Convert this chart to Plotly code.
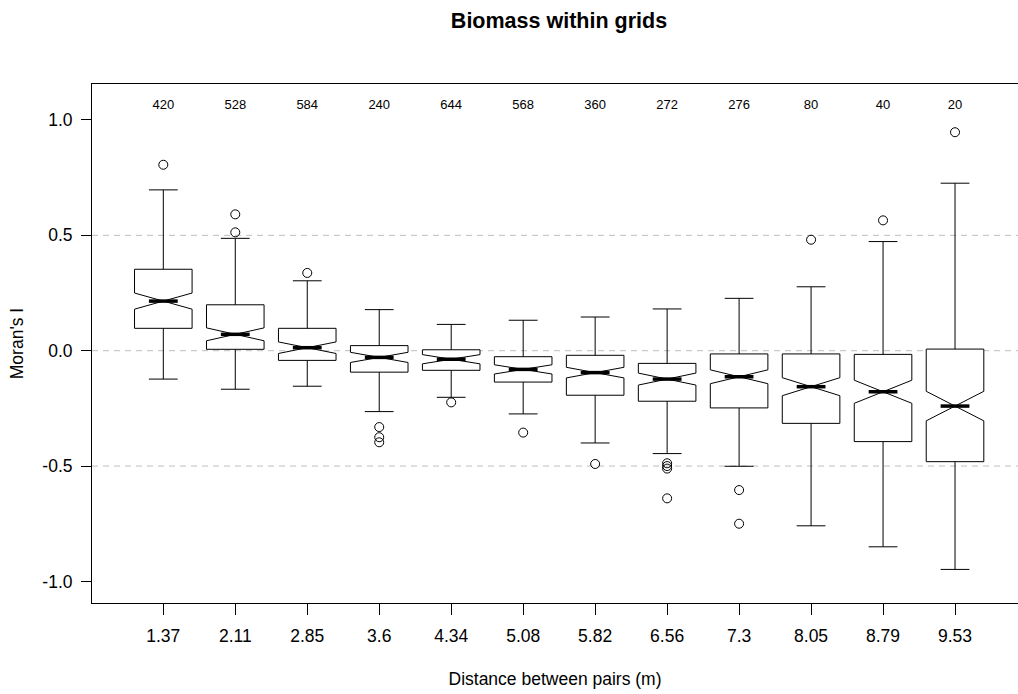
import plotly.graph_objects as go

# ---- data ----
categories = ["1.37", "2.11", "2.85", "3.6", "4.34", "5.08",
              "5.82", "6.56", "7.3", "8.05", "8.79", "9.53"]
counts = [420, 528, 584, 240, 644, 568, 360, 272, 276, 80, 40, 20]
q1 = [0.097, 0.006, -0.042, -0.093, -0.085, -0.136,
      -0.193, -0.219, -0.248, -0.315, -0.394, -0.481]
medians = [0.215, 0.071, 0.013, -0.029, -0.037, -0.081,
           -0.095, -0.123, -0.113, -0.156, -0.178, -0.240]
q3 = [0.353, 0.199, 0.097, 0.022, 0.004, -0.026,
      -0.020, -0.055, -0.014, -0.014, -0.016, 0.007]
lower_whisker = [-0.123, -0.167, -0.154, -0.264, -0.202, -0.274,
                 -0.400, -0.446, -0.501, -0.759, -0.850, -0.948]
upper_whisker = [0.697, 0.487, 0.303, 0.178, 0.114, 0.132,
                 0.146, 0.181, 0.227, 0.277, 0.473, 0.726]
notch_span = [0.035, 0.028, 0.025, 0.022, 0.020, 0.020,
              0.023, 0.026, 0.030, 0.039, 0.050, 0.064]
outliers = [
    [0.806],
    [0.591, 0.513],
    [0.337],
    [-0.331, -0.375, -0.397],
    [-0.224],
    [-0.355],
    [-0.491],
    [-0.488, -0.500, -0.511, -0.640],
    [-0.604, -0.750],
    [0.481],
    [0.565],
    [0.947],
]
ytick_vals = [-1.0, -0.5, 0.0, 0.5, 1.0]
ytick_text = ["-1.0", "-0.5", "0.0", "0.5", "1.0"]
ref_lines = [-0.5, 0.0, 0.5]

# ---- layout constants ----
positions = list(range(1, len(categories) + 1))
BOX_W = 0.8
NOTCH_W = 0.5
COUNT_Y = 1.062
FONT = "Liberation Sans, Arial, Helvetica, sans-serif"

fig = go.Figure()

fig.add_trace(go.Box(
    x=positions,
    q1=q1, median=medians, q3=q3,
    lowerfence=lower_whisker, upperfence=upper_whisker,
    notchspan=notch_span, notched=True, notchwidth=NOTCH_W,
    width=BOX_W, whiskerwidth=0.5,
    fillcolor="white",
    line=dict(color="black", width=1),
    boxpoints=False, showlegend=False, hoverinfo="skip",
))

# thick median bars (R draws medians with lwd = 3)
half = BOX_W / 2 * (1 - NOTCH_W)
mx, my = [], []
for p, m in zip(positions, medians):
    mx += [p - half, p + half, None]
    my += [m, m, None]
fig.add_trace(go.Scatter(x=mx, y=my, mode="lines",
                         line=dict(color="black", width=3.5),
                         showlegend=False, hoverinfo="skip"))

# outliers
ox, oy = [], []
for p, vals in zip(positions, outliers):
    for v in vals:
        ox.append(p)
        oy.append(v)
fig.add_trace(go.Scatter(x=ox, y=oy, mode="markers",
                         marker=dict(symbol="circle-open", size=9,
                                     color="black", line=dict(width=1)),
                         showlegend=False, hoverinfo="skip"))

# counts above the boxes
fig.add_trace(go.Scatter(x=positions, y=[COUNT_Y] * len(positions),
                         mode="text", text=[str(c) for c in counts],
                         textfont=dict(size=13, color="black", family=FONT),
                         showlegend=False, hoverinfo="skip"))

for v in ref_lines:
    fig.add_shape(type="line", xref="paper", x0=0, x1=1, yref="y", y0=v, y1=v,
                  line=dict(color="#BEBEBE", width=1, dash="6px,5px"),
                  layer="below")

fig.update_layout(
    width=1018, height=694,
    margin=dict(l=92, r=0, t=84, b=91, autoexpand=False),
    paper_bgcolor="white", plot_bgcolor="white",
    font=dict(family=FONT, color="black", size=17.5),
    title=dict(text="<b>Biomass within grids</b>", xref="paper", x=0.5043,
               xanchor="center", yref="container", y=1 - 20 / 694,
               yanchor="middle", font=dict(size=21.5, family=FONT, color="black")),
    showlegend=False,
)

fig.update_xaxes(
    range=[0.0093, 12.875], tickmode="array", tickvals=positions, ticktext=categories,
    ticks="outside", ticklen=11, tickcolor="black", tickwidth=1,
    showline=True, linecolor="black", linewidth=1, mirror=True,
    showgrid=False, zeroline=False, ticklabelstandoff=6,
    title=dict(text="Distance between pairs (m)", standoff=27,
               font=dict(size=17.5, family=FONT)),
    automargin=False,
)
fig.update_yaxes(
    range=[-1.0936, 1.156], tickmode="array", tickvals=ytick_vals, ticktext=ytick_text,
    ticks="outside", ticklen=10, tickcolor="black", tickwidth=1,
    showline=True, linecolor="black", linewidth=1, mirror=False,
    showgrid=False, zeroline=False, ticklabelstandoff=5,
    title=dict(text="Moran's I", standoff=14, font=dict(size=17.5, family=FONT)),
    automargin=False,
)

fig.write_html("out.html")
